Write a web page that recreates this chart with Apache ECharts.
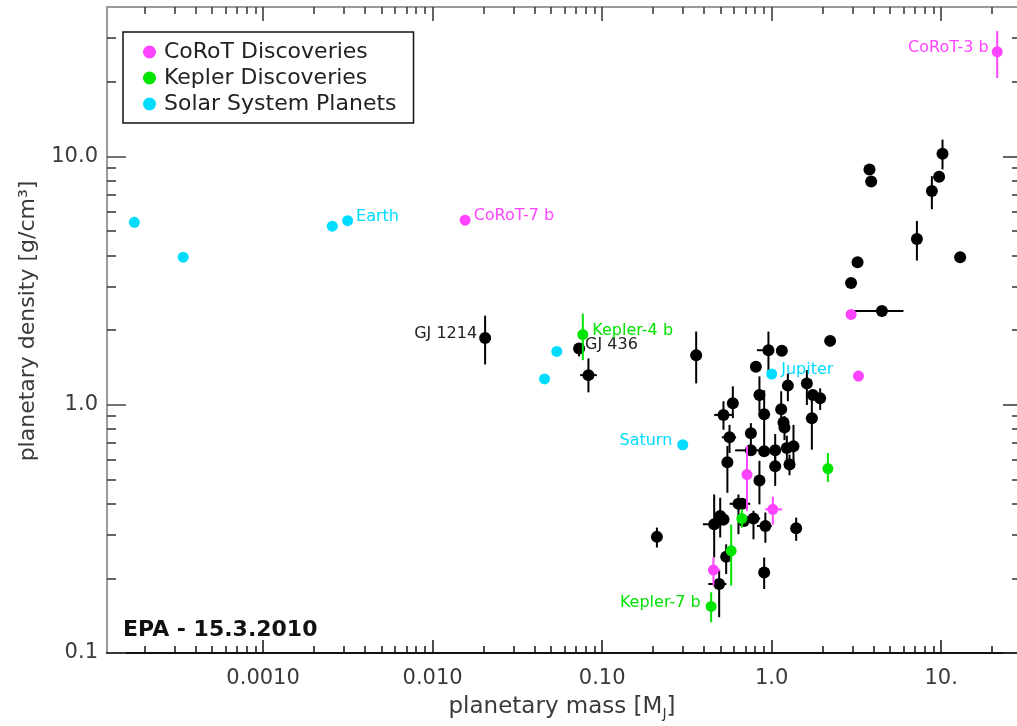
<!DOCTYPE html>
<html>
<head>
<meta charset="utf-8">
<script src="https://cdn.jsdelivr.net/npm/echarts@6/dist/echarts.min.js"></script>
<style>
html,body{margin:0;padding:0;background:#fff;}
#chart{width:1017px;height:726px;}
</style>
</head>
<body>
<div id="chart"></div>
<script>
// ---------------- DATA ----------------
// Axis ticks and labels
const xMajor = [0.001, 0.01, 0.1, 1, 10];
const xTickLabels = ['0.0010', '0.010', '0.10', '1.0', '10.'];
const yMajor = [0.1, 1, 10];
const yTickLabels = ['0.1', '1.0', '10.0'];

// CoRoT discoveries (magenta)
const corotNames   = ['CoRoT-7 b', 'CoRoT-3 b', '', '', '', '', ''];
const corotMass    = [0.01555, 21.4, 2.94, 3.25, 0.715, 1.016, 0.4535];
const corotDensity = [5.54, 26.4, 2.31, 1.304, 0.523, 0.379, 0.2157];
const corotMassErr = [null, null, null, null, null, [0.916, 1.153], [0.423, 0.497]];
const corotDensErr = [null, [20.7, 32.0], null, null, [0.374, 0.682], [0.329, 0.426], [0.1873, 0.2425]];

// Kepler discoveries (green)
const keplerNames   = ['Kepler-4 b', 'Kepler-7 b', '', '', ''];
const keplerMass    = [0.0769, 0.4395, 2.146, 0.667, 0.577];
const keplerDensity = [1.917, 0.154, 0.553, 0.348, 0.258];
const keplerMassErr = [null, null, null, null, null];
const keplerDensErr = [[1.512, 2.327], [0.133, 0.1756], [0.489, 0.639], [0.32, 0.38], [0.187, 0.329]];

// Solar system planets (cyan)
const solarNames   = ['', '', 'Earth', '', 'Jupiter', 'Saturn', '', ''];
const solarMass    = [0.000174, 0.00256, 0.00315, 0.000338, 1.0, 0.299, 0.0457, 0.0540];
const solarDensity = [5.43, 5.24, 5.51, 3.93, 1.33, 0.69, 1.27, 1.64];

// Other known exoplanets (black)
const otherNames = ['GJ 1214', 'GJ 436'];
const otherMass = [
  0.0204, 0.0731, 0.083, 0.2104, 0.3586, 2.213, 0.957, 1.148, 0.807, 1.246,
  1.613, 1.750, 1.932, 1.726, 0.847, 0.590, 0.5196, 0.903, 1.138, 1.174,
  1.19, 0.564, 0.754, 0.754, 0.903, 1.049, 1.229, 1.345, 0.548, 1.049,
  1.274, 0.847, 0.637, 0.67, 0.497, 0.52, 0.458, 0.781, 0.685, 0.918,
  1.395, 0.539, 0.903, 0.490, 3.776, 3.864, 10.18, 9.72, 8.81, 7.19,
  12.94, 3.21, 2.94, 4.47
];
const otherDensity = [
  1.859, 1.685, 1.316, 0.2936, 1.584, 1.808, 1.658, 1.649, 1.423, 1.194,
  1.219, 1.095, 1.062, 0.883, 1.095, 1.014, 0.910, 0.916, 0.959, 0.849,
  0.810, 0.739, 0.767, 0.655, 0.649, 0.655, 0.669, 0.680, 0.587, 0.565,
  0.574, 0.495, 0.399, 0.399, 0.356, 0.345, 0.330, 0.348, 0.340, 0.325,
  0.318, 0.244, 0.211, 0.1896, 8.87, 7.92, 10.25, 8.29, 7.26, 4.65,
  3.93, 3.75, 3.09, 2.386
];
const otherMassErr = [
  null, null, [0.0742, 0.093], null, null, null, [0.818, 1.02], null, null, null,
  null, null, null, null, null, null, [0.458, 0.593], null, null, null,
  null, [0.508, 0.617], null, [0.609, 0.933], null, null, null, null, null, null,
  null, null, [0.565, 0.747], null, null, null, [0.393, 0.532], [0.714, 0.855], null, [0.818, 1.0],
  null, null, null, [0.423, 0.541], null, null, null, null, null, null,
  null, null, [2.76, 3.13], [2.904, 5.99]
];
const otherDensErr = [
  [1.453, 2.284], [1.565, 1.764], [1.122, 1.536], [0.266, 0.320], [1.219, 1.971], null, [1.362, 1.971], null, null, [1.033, 1.337],
  [0.998, 1.379], null, [0.953, 1.164], [0.659, 1.062], [0.942, 1.301], [0.883, 1.186], [0.793, 1.033], [0.657, 1.143], [0.805, 1.133], null,
  [0.72, 0.90], [0.639, 0.830], [0.657, 0.843], null, null, [0.557, 0.762], [0.60, 0.75], [0.557, 0.830], [0.442, 0.682], [0.471, 0.622],
  [0.52, 0.63], [0.397, 0.594], [0.301, 0.435], null, [0.292, 0.422], null, [0.2425, 0.435], [0.287, 0.374], null, [0.278, 0.368],
  [0.283, 0.351], [0.208, 0.274], [0.181, 0.2425], [0.1394, 0.215], null, null, [8.87, 11.70], null, [6.13, 8.33], [3.81, 5.50],
  null, null, [2.96, 3.22], null
];

// ---------------- STYLE / LAYOUT ----------------
const FONT = 'DejaVu Sans';
const X_MIN = 1.2e-4, X_MAX = 28;
const Y_MIN = 0.1, Y_MAX = 40;
const C_COROT = '#ff44ff', C_KEPLER = '#00e400', C_SOLAR = '#00dcff', C_OTHER = '#000000';

const labelPlace = {
  'CoRoT-7 b': {position: 'right', distance: 3},
  'CoRoT-3 b': {position: 'left', distance: 3},
  'Earth': {position: 'right', distance: 3},
  'Jupiter': {position: 'right', distance: 4},
  'Saturn': {position: 'left', distance: 5},
  'Kepler-4 b': {position: 'right', distance: 4},
  'Kepler-7 b': {position: 'left', distance: 5},
  'GJ 1214': {position: 'left', distance: 2},
  'GJ 436': {position: 'right', distance: 0}
};

function minorTicks(lo, hi) {
  const out = [];
  for (let e = Math.floor(Math.log10(lo)); e <= Math.ceil(Math.log10(hi)); e++) {
    for (let k = 2; k <= 9; k++) {
      const v = k * Math.pow(10, e);
      if (v > lo && v < hi) out.push(v);
    }
  }
  return out;
}
const xMinor = minorTicks(X_MIN, X_MAX);
const yMinor = minorTicks(Y_MIN, Y_MAX);

function tickFormatter(majors, labels) {
  return function (v) {
    const i = majors.findIndex(t => Math.abs(Math.log10(v) - Math.log10(t)) < 1e-6);
    return i >= 0 ? labels[i] : '';
  };
}

function pointData(mass, dens, names, color) {
  return mass.map((m, i) => {
    const nm = names[i];
    const item = {value: [m, dens[i]]};
    if (nm) {
      item.label = Object.assign({
        show: true, formatter: nm, offset: [0, -4],
        fontFamily: FONT, fontSize: 16, color: color === C_OTHER ? '#222' : color
      }, labelPlace[nm]);
    }
    return item;
  });
}

function errSegments(mass, dens, mErr, dErr) {
  const segs = [];
  mass.forEach((m, i) => {
    if (mErr && mErr[i]) segs.push([mErr[i][0], dens[i], mErr[i][1], dens[i]]);
    if (dErr && dErr[i]) segs.push([m, dErr[i][0], m, dErr[i][1]]);
  });
  return segs;
}

function errSeries(name, segs, color, z) {
  return {
    name: name, type: 'custom', xAxisIndex: 0, yAxisIndex: 0, silent: true, z: z,
    data: segs, encode: {x: [0, 2], y: [1, 3]},
    renderItem: function (params, api) {
      const a = api.coord([api.value(0), api.value(1)]);
      const b = api.coord([api.value(2), api.value(3)]);
      return {type: 'line', shape: {x1: a[0], y1: a[1], x2: b[0], y2: b[1]},
              style: {stroke: color, lineWidth: 2}};
    }
  };
}

function scatter(name, mass, dens, names, color, size, z) {
  return {
    name: name, type: 'scatter', xAxisIndex: 0, yAxisIndex: 0, z: z,
    symbol: 'circle', symbolSize: size,
    itemStyle: {color: color, opacity: 1},
    data: pointData(mass, dens, names, color)
  };
}

const otherNamesFull = otherMass.map((_, i) => otherNames[i] || '');

const tickTxt = {fontFamily: FONT, fontSize: 21, color: '#3a3a3a'};

// one axis drawing only a set of inward ticks
function tickAxis(min, max, position, values, length, color) {
  return {
    type: 'log', logBase: 10, min: min, max: max, position: position,
    splitLine: {show: false}, axisPointer: {show: false},
    axisLine: {show: false, onZero: false},
    axisTick: {show: true, inside: true, length: length, customValues: values,
               lineStyle: {color: color, width: 1.5}},
    axisLabel: {show: false}
  };
}

const xAxes = [
  {
    type: 'log', logBase: 10, min: X_MIN, max: X_MAX, position: 'bottom',
    splitLine: {show: false}, axisPointer: {show: false},
    axisLine: {show: true, onZero: false, lineStyle: {color: '#111', width: 2}},
    axisTick: {show: false},
    axisLabel: Object.assign({show: true, customValues: xMajor, margin: 15,
                              formatter: tickFormatter(xMajor, xTickLabels)}, tickTxt),
    name: 'planetary mass [M{sub|J}]', nameLocation: 'middle', nameGap: 43,
    nameTextStyle: {fontFamily: FONT, fontSize: 23, color: '#3a3a3a',
      rich: {sub: {fontFamily: FONT, fontSize: 14, color: '#3a3a3a', verticalAlign: 'bottom', padding: [0, 0, -2, 0]}}}
  },
  tickAxis(X_MIN, X_MAX, 'bottom', xMajor, 13, '#111'),
  tickAxis(X_MIN, X_MAX, 'bottom', xMinor, 7, '#111'),
  Object.assign(tickAxis(X_MIN, X_MAX, 'top', xMajor, 14, '#333'),
    {axisLine: {show: true, onZero: false, lineStyle: {color: '#9a9a9a', width: 2}}}),
  tickAxis(X_MIN, X_MAX, 'top', xMinor, 7, '#333')
];

const yAxes = [
  {
    type: 'log', logBase: 10, min: Y_MIN, max: Y_MAX, position: 'left',
    splitLine: {show: false}, axisPointer: {show: false},
    axisLine: {show: true, onZero: false, lineStyle: {color: '#9a9a9a', width: 2}},
    axisTick: {show: false},
    axisLabel: Object.assign({show: true, customValues: yMajor, margin: 9,
                              formatter: tickFormatter(yMajor, yTickLabels)}, tickTxt),
    name: 'planetary density [g/cm³]', nameLocation: 'middle', nameGap: 68,
    nameTextStyle: {fontFamily: FONT, fontSize: 22, color: '#3a3a3a', padding: [0, 0, 0, 18]}
  },
  tickAxis(Y_MIN, Y_MAX, 'left', yMajor, 19, '#444'),
  tickAxis(Y_MIN, Y_MAX, 'left', yMinor, 9, '#333'),
  tickAxis(Y_MIN, Y_MAX, 'right', yMajor, 14, '#333'),
  tickAxis(Y_MIN, Y_MAX, 'right', yMinor, 5, '#333')
];

const chart = echarts.init(document.getElementById('chart'), null, {renderer: 'canvas'});
chart.setOption({
  animation: false,
  backgroundColor: '#ffffff',
  grid: {left: 107, right: 0, top: 7, bottom: 69, containLabel: false},
  xAxis: xAxes,
  yAxis: yAxes,
  legend: {
    show: true, orient: 'vertical', left: 123, top: 32,
    data: ['CoRoT Discoveries', 'Kepler Discoveries', 'Solar System Planets'],
    itemWidth: 13, itemHeight: 13, itemGap: 4,
    padding: [9, 17, 8, 20],
    borderColor: '#111', borderWidth: 1.5, backgroundColor: '#fff',
    selectedMode: false,
    textStyle: {fontFamily: FONT, fontSize: 22, color: '#222', padding: [0, 0, 0, 3]}
  },
  graphic: [{
    type: 'text', left: 123, top: 619, silent: true,
    style: {text: 'EPA - 15.3.2010', fontFamily: FONT, fontSize: 22, fontWeight: 'bold', fill: '#111'}
  }],
  series: [
    errSeries('otherErr', errSegments(otherMass, otherDensity, otherMassErr, otherDensErr), C_OTHER, 2),
    scatter('Other Exoplanets', otherMass, otherDensity, otherNamesFull, C_OTHER, 12, 3),
    scatter('Solar System Planets', solarMass, solarDensity, solarNames, C_SOLAR, 11, 4),
    errSeries('keplerErr', errSegments(keplerMass, keplerDensity, keplerMassErr, keplerDensErr), C_KEPLER, 5),
    scatter('Kepler Discoveries', keplerMass, keplerDensity, keplerNames, C_KEPLER, 11, 6),
    errSeries('corotErr', errSegments(corotMass, corotDensity, corotMassErr, corotDensErr), C_COROT, 7),
    scatter('CoRoT Discoveries', corotMass, corotDensity, corotNames, C_COROT, 11, 8)
  ]
});
</script>
</body>
</html>
